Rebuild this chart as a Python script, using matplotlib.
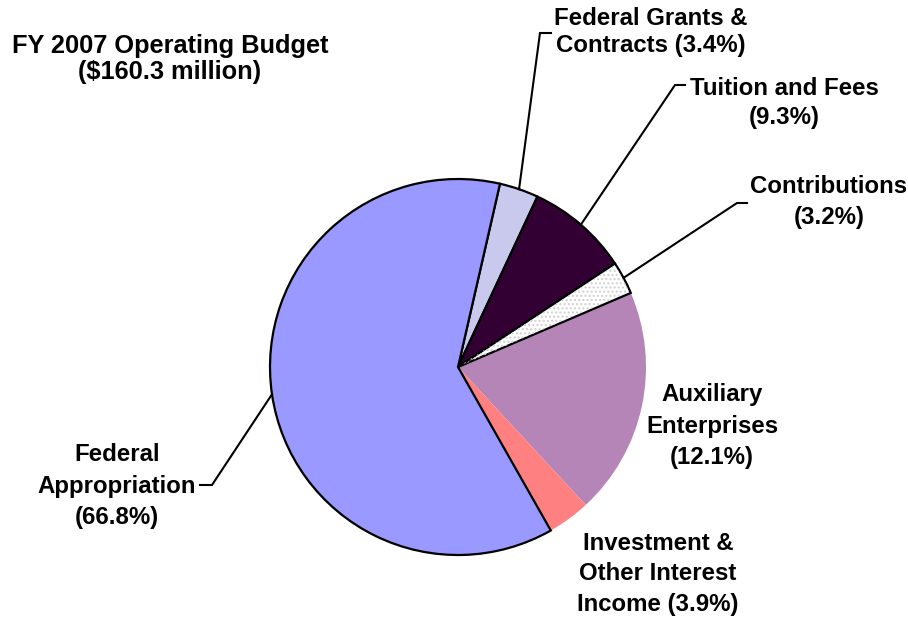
import numpy as np
import matplotlib
matplotlib.use("Agg")
import matplotlib.pyplot as plt
from matplotlib.patches import Wedge

W, H = 908, 621

# shares as drawn in the picture (clockwise from the top)
categories = ["Federal Grants & Contracts", "Tuition and Fees", "Contributions",
              "Auxiliary Enterprises", "Investment & Other Interest Income",
              "Federal Appropriation"]
shares = [3.36, 8.78, 2.83, 19.56, 3.67, 61.80]
labels = ["Federal Grants &\nContracts (3.4%)", "Tuition and Fees\n(9.3%)",
          "Contributions\n(3.2%)", "Auxiliary\nEnterprises\n(12.1%)",
          "Investment &\nOther Interest\nIncome (3.9%)",
          "Federal\nAppropriation\n(66.8%)"]
colors = ["#C9C9EE", "#330033", "#FFFFFF", "#B485B6", "#FF8080", "#9999FF"]
title = "FY 2007 Operating Budget\n($160.3 million)"

# layout (pixels, y from the top)
center = (458, 367)
radius = 188
label_pos = [(651, 32), (784, 103), (829, 202), (712, 426), (658, 574), (117, 486)]
spacing = [1.27, 1.36, 1.45, 1.49, 1.4, 1.49]
elbows = [((540, 33), (551, 33)), ((675, 85), (685, 85)), ((737, 203), (747, 203)),
          None, None, ((212, 485), (200, 485))]
edged = [True, True, True, False, False, True]
font = "Liberation Sans"


def px(x, y):
    return x, H - y


fig = plt.figure(figsize=(W / 100, H / 100), dpi=100)
ax = fig.add_axes([0, 0, 1, 1])

wedges, _ = ax.pie(shares, colors=colors, startangle=77.1, counterclock=False,
                   center=px(*center), radius=radius, normalize=True)
for w, e in zip(wedges, edged):
    if e:
        w.set_edgecolor("black")
        w.set_linewidth(1.6)
        w.set_zorder(3)
    else:
        w.set_edgecolor("none")
        w.set_linewidth(0)
        w.set_zorder(2)

# dotted pattern on the contributions slice
cw = wedges[2]
dots = Wedge(cw.center, cw.r - 1, cw.theta1 + 0.5, cw.theta2 - 0.5, facecolor="none",
             edgecolor="#CFCFCF", linewidth=0, hatch="....", zorder=3.5)
ax.add_patch(dots)

# labels and leader lines
for w, lab, pos, ls, elb in zip(wedges, labels, label_pos, spacing, elbows):
    ax.text(*px(*pos), lab, ha="center", va="center", fontsize=17.3,
            fontweight="bold", family=font, linespacing=ls)
    if elb is None:
        continue
    mid = np.deg2rad((w.theta1 + w.theta2) / 2)
    sx = w.center[0] + w.r * np.cos(mid)
    sy = w.center[1] + w.r * np.sin(mid)
    xs = [sx, px(*elb[0])[0], px(*elb[1])[0]]
    ys = [sy, px(*elb[0])[1], px(*elb[1])[1]]
    ax.plot(xs, ys, color="black", lw=1.5, zorder=4, solid_joinstyle="miter")

ax.text(*px(170, 59), title, ha="center", va="center", fontsize=18.3,
        fontweight="bold", family=font, linespacing=1.1)

ax.set_xlim(0, W)
ax.set_ylim(0, H)
ax.set_aspect("equal")
ax.axis("off")

fig.savefig("out.png", dpi=100)
